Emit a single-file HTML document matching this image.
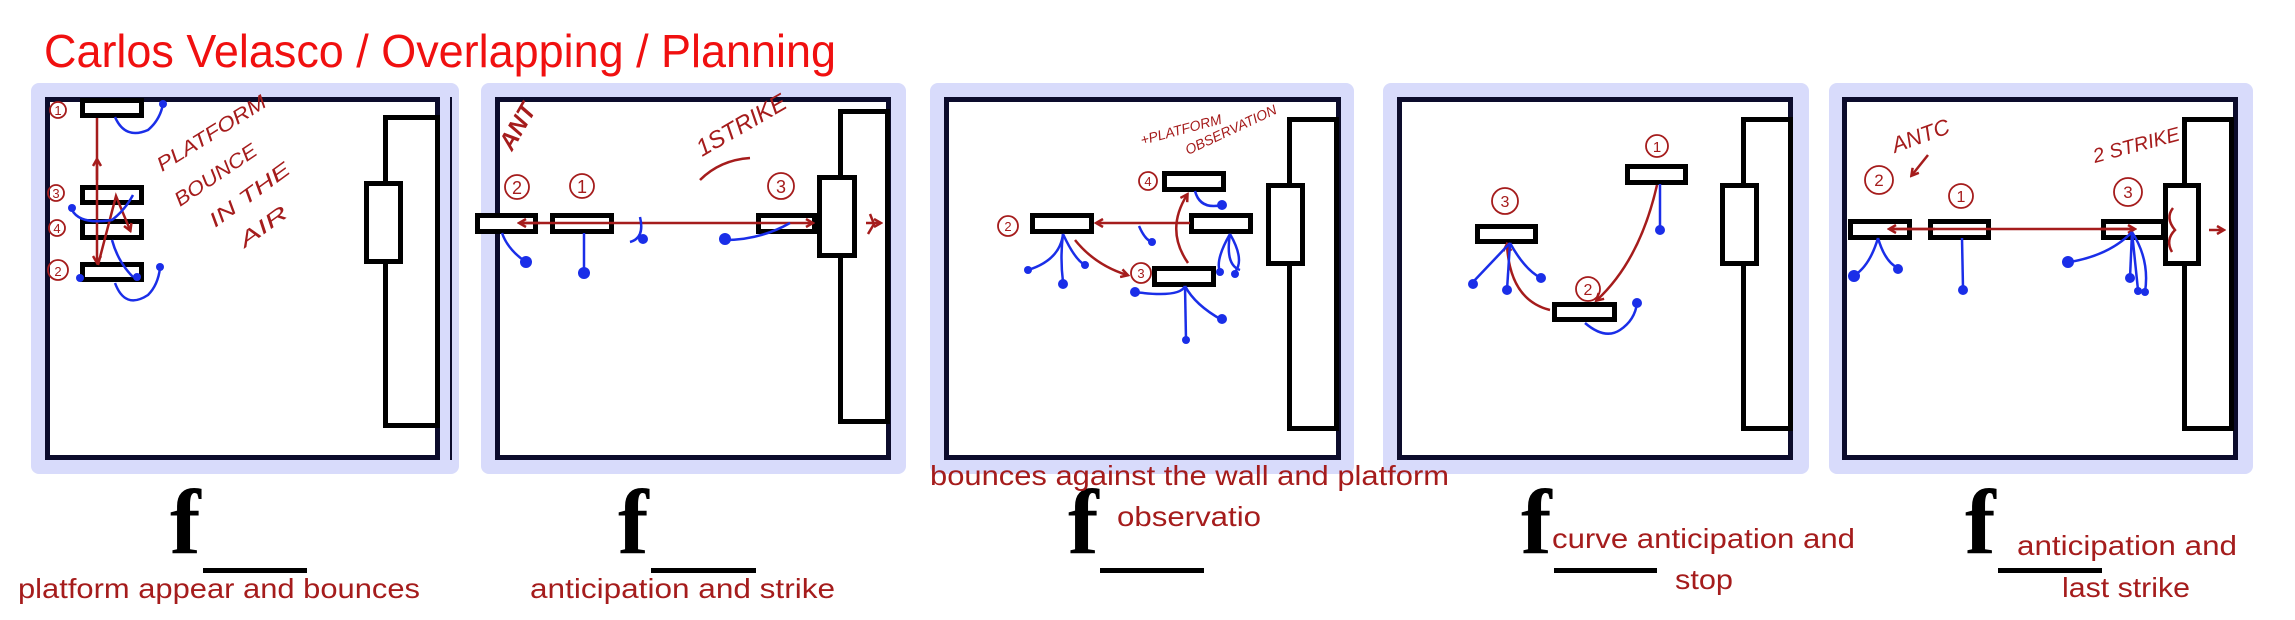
<!DOCTYPE html>
<html><head><meta charset="utf-8"><style>
html,body{margin:0;padding:0;background:#fff;width:2295px;height:620px;overflow:hidden}
svg{display:block}
</style></head><body>
<svg width="2295" height="620" viewBox="0 0 2295 620" xmlns="http://www.w3.org/2000/svg">
<defs>
<marker id="ah" markerWidth="10" markerHeight="10" refX="7" refY="5" orient="auto" markerUnits="userSpaceOnUse"><path d="M1,1 L8,5 L1,9" fill="none" stroke="#a51c1c" stroke-width="2.5"/></marker>
</defs>
<text x="44" y="67" font-family="Liberation Sans, sans-serif" font-size="46" fill="#f01010" textLength="792" lengthAdjust="spacingAndGlyphs">Carlos Velasco / Overlapping / Planning</text>

<g fill="#d8dbfb">
<rect x="31" y="83" width="428" height="391" rx="8"/>
<rect x="481" y="83" width="425" height="391" rx="8"/>
<rect x="930" y="83" width="424" height="391" rx="8"/>
<rect x="1383" y="83" width="426" height="391" rx="8"/>
<rect x="1829" y="83" width="424" height="391" rx="8"/>
</g>
<g fill="#fff" stroke="#0c0c2c" stroke-width="5">
<rect x="47.5" y="99.5" width="390" height="358"/>
<rect x="497.5" y="99.5" width="391" height="358"/>
<rect x="946.5" y="99.5" width="392" height="358"/>
<rect x="1399.5" y="99.5" width="391" height="358"/>
<rect x="1844.5" y="99.5" width="391" height="358"/>
</g>
<line x1="451" y1="97" x2="451" y2="460" stroke="#0c0c2c" stroke-width="2"/>
<g fill="#fff" stroke="#000" stroke-width="5">
<rect x="385.5" y="117.5" width="52" height="308"/>
<rect x="366.5" y="183.5" width="34" height="78"/>
<rect x="840.5" y="111.5" width="47" height="310"/>
<rect x="819.5" y="177.5" width="35" height="78"/>
<rect x="1289.5" y="119.5" width="47" height="309"/>
<rect x="1268.5" y="185.5" width="34" height="78"/>
<rect x="1743.5" y="119.5" width="47" height="309"/>
<rect x="1722.5" y="185.5" width="34" height="78"/>
<rect x="2184.5" y="119.5" width="47" height="309"/>
<rect x="2165.5" y="185.5" width="33" height="78"/>
</g>

<g fill="#fff" stroke="#000" stroke-width="5">
<rect x="82.5" y="100.5" width="59" height="15"/>
<rect x="82.5" y="187.5" width="59" height="15"/>
<rect x="82.5" y="221.5" width="59" height="16"/>
<rect x="82.5" y="264.5" width="59" height="15"/>
<rect x="477.5" y="215.5" width="58" height="16"/>
<rect x="552.5" y="215.5" width="59" height="16"/>
<rect x="758.5" y="215.5" width="56" height="16"/>
<rect x="1032.5" y="215.5" width="59" height="16"/>
<rect x="1164.5" y="173.5" width="59" height="16"/>
<rect x="1191.5" y="215.5" width="59" height="16"/>
<rect x="1154.5" y="268.5" width="59" height="16"/>
<rect x="1627.5" y="166.5" width="58" height="16"/>
<rect x="1477.5" y="226.5" width="58" height="15"/>
<rect x="1554.5" y="304.5" width="60" height="15"/>
<rect x="1850.5" y="221.5" width="59" height="16"/>
<rect x="1930.5" y="221.5" width="58" height="16"/>
<rect x="2103.5" y="221.5" width="60" height="16"/>
</g>

<g fill="none" stroke="#a51c1c" stroke-width="2.5">
<line x1="97" y1="118" x2="97" y2="262" marker-end="url(#ah)"/>
<line x1="97" y1="180" x2="97" y2="160" marker-end="url(#ah)"/>
<path d="M98,265 L116,196 L130,230" marker-end="url(#ah)"/>
<line x1="520" y1="223" x2="812" y2="223" marker-end="url(#ah)"/>
<line x1="540" y1="223" x2="520" y2="223" marker-end="url(#ah)"/>
<path d="M870,214 L874,224 L868,234"/><line x1="866" y1="223" x2="880" y2="223" marker-end="url(#ah)"/>
<line x1="1190" y1="223" x2="1097" y2="223" marker-end="url(#ah)"/>
<path d="M1075,240 Q1095,265 1127,275" marker-end="url(#ah)"/>
<path d="M1188,263 Q1165,230 1187,195" marker-end="url(#ah)"/>
<path d="M1657,185 Q1640,260 1597,300" marker-end="url(#ah)"/>
<path d="M1550,310 Q1510,300 1507,245" marker-end="url(#ah)"/>
<line x1="2135" y1="229" x2="1891" y2="229"/>
<line x1="1935" y1="229" x2="1890" y2="229" marker-end="url(#ah)"/>
<line x1="2100" y1="229" x2="2134" y2="229" marker-end="url(#ah)"/>
<line x1="2209" y1="230" x2="2223" y2="230" marker-end="url(#ah)"/>
<path d="M2173,208 Q2165,218 2175,230 Q2165,240 2172,252"/>
<line x1="1928" y1="155" x2="1912" y2="175" marker-end="url(#ah)"/>
<path d="M700,180 Q720,160 750,158"/>
</g>

<g fill="none" stroke="#a51c1c" stroke-width="1.8">
<circle cx="58" cy="110" r="8"/><circle cx="56" cy="193" r="8"/><circle cx="57" cy="228" r="8"/><circle cx="58" cy="270" r="10"/>
<circle cx="517" cy="187" r="12"/><circle cx="582" cy="186" r="12"/><circle cx="781" cy="186" r="13"/>
<circle cx="1008" cy="226" r="10"/><circle cx="1148" cy="181" r="9"/><circle cx="1141" cy="273" r="10"/>
<circle cx="1657" cy="146" r="11"/><circle cx="1505" cy="201" r="13"/><circle cx="1588" cy="289" r="12"/>
<circle cx="1879" cy="180" r="14"/><circle cx="1961" cy="196" r="12"/><circle cx="2128" cy="192" r="14"/>
</g>
<g fill="#a51c1c" font-family="Liberation Sans, sans-serif" font-size="13" text-anchor="middle">
<text x="58" y="115">1</text><text x="56" y="198">3</text><text x="57" y="233">4</text><text x="58" y="276">2</text>
<text x="517" y="194" font-size="18">2</text><text x="582" y="193" font-size="18">1</text><text x="781" y="193" font-size="18">3</text>
<text x="1008" y="231">2</text><text x="1148" y="186">4</text><text x="1141" y="278">3</text>
<text x="1657" y="152" font-size="15">1</text><text x="1505" y="207" font-size="16">3</text><text x="1588" y="295" font-size="16">2</text>
<text x="1879" y="186" font-size="17">2</text><text x="1961" y="202" font-size="16">1</text><text x="2128" y="198" font-size="17">3</text>
</g>

<g fill="#a51c1c" font-family="Liberation Sans, sans-serif" font-style="italic">
<text x="0" y="0" font-size="20" transform="translate(162,172) rotate(-32)" textLength="125" lengthAdjust="spacingAndGlyphs">PLATFORM</text>
<text x="0" y="0" font-size="20" transform="translate(180,207) rotate(-34)" textLength="95" lengthAdjust="spacingAndGlyphs">BOUNCE</text>
<text x="0" y="0" font-size="20" transform="translate(215,228) rotate(-36)" textLength="95" lengthAdjust="spacingAndGlyphs">IN THE</text>
<text x="0" y="0" font-size="20" transform="translate(245,248) rotate(-36)" textLength="55" lengthAdjust="spacingAndGlyphs">AIR</text>
<text x="0" y="0" font-size="24" font-weight="bold" transform="translate(512,152) rotate(-60)">ANT</text>
<text x="0" y="0" font-size="24" transform="translate(702,157) rotate(-30)">1STRIKE</text>
<text x="0" y="0" font-size="14" transform="translate(1142,145) rotate(-15)">+PLATFORM</text>
<text x="0" y="0" font-size="14" transform="translate(1188,155) rotate(-25)">OBSERVATION</text>
<text x="0" y="0" font-size="22" transform="translate(1895,153) rotate(-20)">ANTC</text>
<text x="0" y="0" font-size="20" transform="translate(2095,163) rotate(-15)">2 STRIKE</text>
</g>

<g fill="none" stroke="#1a2ee8" stroke-width="2.5">
<path d="M115,117 Q125,140 148,130 Q160,120 163,104"/>
<path d="M72,210 Q80,225 112,220 Q125,210 133,195"/>
<path d="M112,240 Q118,262 133,277"/>
<path d="M115,283 Q125,310 148,295 Q158,285 160,268"/>
<path d="M502,233 Q508,250 526,262"/><path d="M584,233 L584,272"/>
<path d="M640,217 Q645,238 630,242"/><path d="M725,240 Q760,240 790,223"/>
<path d="M1063,234 Q1060,260 1028,270"/><path d="M1063,234 Q1060,258 1063,282"/><path d="M1063,234 Q1075,260 1085,265"/>
<path d="M1139,226 Q1145,240 1152,242"/>
<path d="M1195,191 Q1200,210 1222,205"/><path d="M1230,234 Q1215,260 1220,272"/><path d="M1230,234 Q1225,265 1240,270"/><path d="M1230,234 Q1245,260 1235,272"/>
<path d="M1185,286 Q1180,298 1135,292"/><path d="M1185,286 L1186,340"/><path d="M1185,286 Q1195,305 1222,320"/>
<path d="M1660,184 L1660,228"/>
<path d="M1510,243 L1473,282"/><path d="M1510,243 L1507,290"/><path d="M1510,243 Q1525,270 1541,278"/>
<path d="M1585,323 Q1605,340 1620,330 Q1635,320 1637,303"/>
<path d="M1878,238 Q1870,265 1855,275"/><path d="M1878,238 Q1885,262 1898,268"/><path d="M1962,238 L1963,288"/>
<path d="M2132,232 Q2110,255 2070,262"/><path d="M2132,232 L2130,278"/><path d="M2132,232 L2138,290"/><path d="M2132,232 Q2150,260 2145,292"/>
</g>
<g fill="#1a2ee8">
<circle cx="163" cy="104" r="4"/><circle cx="72" cy="208" r="4"/><circle cx="80" cy="278" r="4"/><circle cx="160" cy="267" r="4"/><circle cx="137" cy="277" r="4"/>
<circle cx="526" cy="262" r="6"/><circle cx="584" cy="273" r="6"/><circle cx="643" cy="239" r="5"/><circle cx="725" cy="239" r="6"/>
<circle cx="1028" cy="270" r="4"/><circle cx="1063" cy="284" r="5"/><circle cx="1085" cy="265" r="4"/><circle cx="1152" cy="242" r="4"/>
<circle cx="1222" cy="205" r="5"/><circle cx="1220" cy="272" r="4"/><circle cx="1235" cy="274" r="4"/><circle cx="1135" cy="292" r="5"/><circle cx="1186" cy="340" r="4"/><circle cx="1222" cy="319" r="5"/>
<circle cx="1660" cy="230" r="5"/><circle cx="1473" cy="284" r="5"/><circle cx="1507" cy="290" r="5"/><circle cx="1541" cy="278" r="5"/><circle cx="1637" cy="303" r="5"/>
<circle cx="1854" cy="276" r="6"/><circle cx="1898" cy="269" r="5"/><circle cx="1963" cy="290" r="5"/><circle cx="2068" cy="262" r="6"/><circle cx="2130" cy="278" r="5"/><circle cx="2138" cy="291" r="4"/><circle cx="2145" cy="292" r="4"/>
</g>

<g font-family="Liberation Serif, serif" font-weight="bold" font-size="92" fill="#000">
<text x="170" y="553">f</text><text x="618" y="553">f</text><text x="1068" y="553">f</text><text x="1521" y="553">f</text><text x="1965" y="553">f</text>
</g>
<g fill="#000">
<rect x="203" y="568" width="104" height="5"/><rect x="651" y="568" width="105" height="5"/><rect x="1100" y="568" width="104" height="5"/><rect x="1554" y="568" width="103" height="5"/><rect x="1998" y="568" width="104" height="5"/>
</g>

<g font-family="Liberation Sans, sans-serif" font-size="28" fill="#a51c1c">
<text x="18" y="598" textLength="402" lengthAdjust="spacingAndGlyphs">platform appear and bounces</text>
<text x="530" y="598" textLength="305" lengthAdjust="spacingAndGlyphs">anticipation and strike</text>
<text x="930" y="485" textLength="519" lengthAdjust="spacingAndGlyphs">bounces against the wall and platform</text>
<text x="1117" y="526" textLength="144" lengthAdjust="spacingAndGlyphs">observatio</text>
<text x="1552" y="548" textLength="303" lengthAdjust="spacingAndGlyphs">curve anticipation and</text>
<text x="1675" y="589" textLength="58" lengthAdjust="spacingAndGlyphs">stop</text>
<text x="2017" y="555" textLength="220" lengthAdjust="spacingAndGlyphs">anticipation and</text>
<text x="2062" y="597" textLength="128" lengthAdjust="spacingAndGlyphs">last strike</text>
</g>
</svg>
</body></html>
